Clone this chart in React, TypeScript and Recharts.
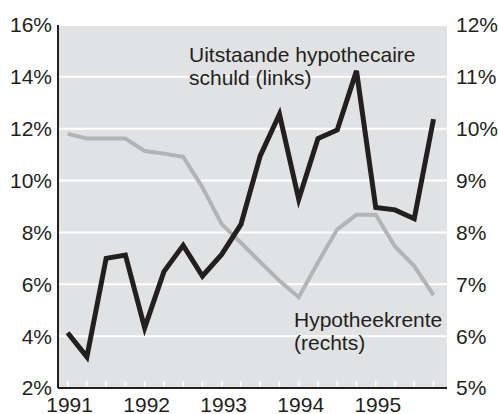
import React from 'react';
import { LineChart, Line, XAxis, YAxis, CartesianGrid, Customized } from 'recharts';

const quarters = [
  '1991-K1', '1991-K2', '1991-K3', '1991-K4',
  '1992-K1', '1992-K2', '1992-K3', '1992-K4',
  '1993-K1', '1993-K2', '1993-K3', '1993-K4',
  '1994-K1', '1994-K2', '1994-K3', '1994-K4',
  '1995-K1', '1995-K2', '1995-K3', '1995-K4',
];
const yearLabels = ['1991', '1992', '1993', '1994', '1995'];
const schuldLinks = [4.13, 3.2, 7.0, 7.13, 4.32, 6.49, 7.5, 6.32, 7.15, 8.31, 10.95, 12.56, 9.28, 11.62, 11.95, 14.23, 8.96, 8.87, 8.53, 12.37];
const renteRechts = [9.9, 9.81, 9.81, 9.81, 9.57, 9.52, 9.46, 8.87, 8.16, 7.8, 7.43, 7.07, 6.75, 7.42, 8.06, 8.34, 8.34, 7.73, 7.35, 6.79];
const leftTicks = [2, 4, 6, 8, 10, 12, 14, 16];
const rightTicks = [5, 6, 7, 8, 9, 10, 11, 12];
const schuldLabel = ['Uitstaande hypothecaire', 'schuld (links)'];
const renteLabel = ['Hypotheekrente', '(rechts)'];

const data = quarters.map((q, i) => ({ idx: i, q, schuld: schuldLinks[i], rente: renteRechts[i] }));

const FONT = '"Liberation Sans", Arial, Helvetica, sans-serif';
const INK = '#231f20';

const XTick = (props: any) => {
  const { x, y, payload } = props;
  const idx = payload.value as number;
  return (
    <g>
      <line x1={x} x2={x} y1={y - 1.5} y2={y - 7} stroke="#ffffff" strokeWidth={1.5} />
      {idx % 4 === 0 && (
        <text x={x + 2} y={y + 23.5} textAnchor="middle" fill={INK} fontSize={21} fontFamily={FONT}>
          {yearLabels[idx / 4]}
        </text>
      )}
    </g>
  );
};

const Annotations = () => (
  <g fontFamily={FONT} fontSize={21} fill={INK}>
    <text x={189} y={62}>{schuldLabel[0]}</text>
    <text x={189} y={85}>{schuldLabel[1]}</text>
    <text x={294} y={327}>{renteLabel[0]}</text>
    <text x={294} y={350}>{renteLabel[1]}</text>
  </g>
);

export default function App() {
  return (
    <div style={{ position: 'absolute', left: 0, top: 0, width: 498, height: 414, background: '#fff' }}>
      <LineChart width={498} height={414} data={data} margin={{ top: 25, right: 0, bottom: 0, left: 0 }}>
        <CartesianGrid vertical={false} fill="#e1e2e4" fillOpacity={1} stroke="#ffffff" strokeWidth={2} yAxisId="left" />
        <XAxis
          dataKey="idx"
          type="number"
          domain={[-0.5, 19.7]}
          allowDataOverflow
          ticks={quarters.map((_, i) => i)}
          interval={0}
          height={26}
          tickSize={0}
          tickMargin={0}
          tickLine={false}
          axisLine={{ stroke: INK, strokeWidth: 2 }}
          tick={<XTick />}
        />
        <YAxis
          yAxisId="left"
          domain={[2, 16]}
          ticks={leftTicks}
          interval={0}
          width={58}
          tickSize={0}
          tickMargin={6}
          tickLine={false}
          axisLine={{ stroke: INK, strokeWidth: 2 }}
          tickFormatter={(v: number) => `${v}%`}
          tick={{ fill: INK, fontSize: 21, fontFamily: FONT }}
        />
        <YAxis
          yAxisId="right"
          orientation="right"
          domain={[5, 12]}
          ticks={rightTicks}
          interval={0}
          width={51}
          tickSize={0}
          tickMargin={9}
          tickLine={false}
          axisLine={false}
          tickFormatter={(v: number) => `${v}%`}
          tick={{ fill: INK, fontSize: 21, fontFamily: FONT }}
        />
        <Line yAxisId="right" dataKey="rente" type="linear" stroke="#b3b4b6" strokeWidth={4} dot={false} isAnimationActive={false} strokeLinejoin="miter" />
        <Line yAxisId="left" dataKey="schuld" type="linear" stroke={INK} strokeWidth={5} dot={false} isAnimationActive={false} strokeLinejoin="miter" />
        <Customized component={<Annotations />} />
      </LineChart>
    </div>
  );
}
